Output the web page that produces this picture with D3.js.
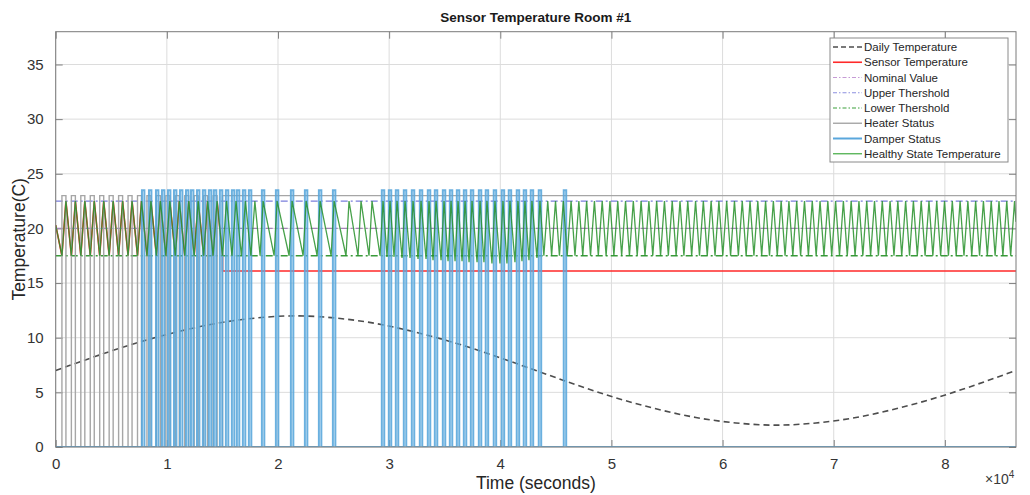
<!DOCTYPE html>
<html><head><meta charset="utf-8">
<script src="https://cdn.jsdelivr.net/npm/d3@7"></script>
<style>body{margin:0;background:#fff;}svg{display:block;font-family:"Liberation Sans",Arial,sans-serif;}</style>
</head><body><svg id="c" width="1030" height="495"></svg>
<script>
// ---------------- DATA ----------------
const title = "Sensor Temperature Room #1";
const xLabel = "Time (seconds)";
const yLabel = "Temperature(C)";
const xTickValues = [0,10000,20000,30000,40000,50000,60000,70000,80000];
const xTickLabels = ["0","1","2","3","4","5","6","7","8"];
const yTickValues = [0,5,10,15,20,25,30,35];
const xDomain = [0,86400];
const yDomain = [0,38];
const legendNames = ["Daily Temperature","Sensor Temperature","Nominal Value","Upper Thershold","Lower Thershold","Heater Status","Damper Status","Healthy State Temperature"];

// daily (outdoor) temperature sampled every hour
const dailyT = [0,3600,7200,10800,14400,18000,21600,25200,28800,32400,36000,39600,43200,46800,50400,54000,57600,61200,64800,68400,72000,75600,79200,82800,86400];
const dailyV = [7,8.3,9.5,10.5,11.3,11.8,12,11.8,11.3,10.5,9.5,8.3,7,5.7,4.5,3.5,2.7,2.2,2,2.2,2.7,3.5,4.5,5.7,7];

const nominalValue = 20;
const upperThreshold = 22.5;
const lowerThreshold = 17.5;

// heater status (0 / 23)
const heaterLevel = 23;
const heaterOnT  = [560,1410,2260,3110,3960,4810,5660,6510,7360,8210,9060,9910,10760,11610,12460,13310,14160,15010];
const heaterOffT = [920,1770,2620,3470,4320,5170,6020,6870,7720,8570,9420,10270,11120,11970,12820,13670,14520];

// damper status (0 / 23.5)
const damperLevel = 23.5;
const damperOnT  = [7760,8390,9020,9560,10100,10640,11180,11720,12170,12710,13240,13780,14230,14770,15310,15850,16300,16840,17380,18550,19810,21160,22420,23680,24940,29340,29970,30600,31320,32040,32760,33480,34110,34830,35460,36090,36720,37350,38070,38690,39410,40130,40760,41480,42110,42740,43460,45710];
const damperOffT = [7980,8610,9240,9780,10320,10860,11400,11940,12390,12930,13460,14000,14450,14990,15530,16070,16520,17060,17600,18770,20030,21380,22640,23900,25160,29560,30190,30820,31540,32260,32980,33700,34330,35050,35680,36310,36940,37570,38290,38910,39630,40350,40980,41700,42330,42960,43680,45930];

// healthy state temperature: start, troughs, peaks, end
const healthyStart = [0,20.3];
const healthyEnd = [86400,20.6];
const healthyTroughT = [560,1410,2260,3110,3960,4810,5660,6510,7360,8210,9060,9910,10760,11610,12460,13310,14160,15010,15860,16710,17560,
 18390,19650,21000,22260,23520,24780,26120,27200,28190,
 29180,29810,30440,31160,31880,32600,33320,33950,34670,35300,35930,36560,37190,37910,38530,39250,39970,40600,41320,41950,42580,43300,
 43920,44620,45320,46020,46720,47420,48120,48820,49520,50220,50920,51620,52320,53020,53720,54420,55120,55820,56520,57220,57920,58620,59320,60020,60720,61420,62120,62820,63520,64220,64920,65620,66320,67020,67720,68420,69120,69820,70520,71220,71920,72620,73320,74020,74720,75420,76120,76820,77520,78220,78920,79620,80320,81020,81720,82420,83120,83820,84520,85220,85920];
const healthyPeakT = [920,1770,2620,3470,4320,5170,6020,6870,7720,8570,9420,10270,11120,11970,12820,13670,14520,15370,16220,17070,17920,
 18660,19920,21270,22530,23790,25050,26390,27470,28460,
 29450,30080,30710,31430,32150,32870,33590,34220,34940,35570,36200,36830,37460,38180,38800,39520,40240,40870,41590,42220,42850,43570,
 44270,44970,45670,46370,47070,47770,48470,49170,49870,50570,51270,51970,52670,53370,54070,54770,55470,56170,56870,57570,58270,58970,59670,60370,61070,61770,62470,63170,63870,64570,65270,65970,66670,67370,68070,68770,69470,70170,70870,71570,72270,72970,73670,74370,75070,75770,76470,77170,77870,78570,79270,79970,80670,81370,82070,82770,83470,84170,84870,85570,86270];
const healthyPeakV = 22.5;
const healthyTroughV = 17.5;
// troughs that undershoot the lower threshold
const healthyDips = [[29810,17.4],[30440,17.4],[31160,17.3],[31880,17.3],[32600,17.2],[33320,17.2],[33950,17.1],[34670,17.1],[35300,17.0],[35930,17.0],[36560,17.0],[37190,16.9],[37910,16.9],[38530,16.9],[39250,16.8],[39970,16.8],[40600,16.8],[41320,16.9],[41950,17.0],[42580,17.1],[43300,17.3]];

// sensor: follows healthy temperature until fault, then stuck
const sensorFaultT = 15010;
const sensorFaultV = 16.1;

// ---------------- CHART ----------------
const svg = d3.select("#c");
const L=55.7, R=1016, T=31.7, B=447;
const x = d3.scaleLinear().domain(xDomain).range([L,R]);
const y = d3.scaleLinear().domain(yDomain).range([B,T]);
const line = d3.line().x(d=>x(d[0])).y(d=>y(d[1]));

svg.append("defs").append("clipPath").attr("id","clip")
  .append("rect").attr("x",L).attr("y",T).attr("width",R-L).attr("height",B-T);

// grid
const grid = svg.append("g");
grid.selectAll(".gx").data(xTickValues).enter().append("line")
  .attr("x1",d=>x(d)).attr("x2",d=>x(d)).attr("y1",T).attr("y2",B)
  .attr("stroke","#dcdcdc").attr("stroke-width",1);
grid.selectAll(".gy").data(yTickValues).enter().append("line")
  .attr("y1",d=>y(d)).attr("y2",d=>y(d)).attr("x1",L).attr("x2",R)
  .attr("stroke","#dcdcdc").attr("stroke-width",1);

// axes with inward ticks
const xAxisB = d3.axisBottom(x).tickValues(xTickValues).tickFormat((d,i)=>xTickLabels[i]).tickSizeInner(-7).tickSizeOuter(0).tickPadding(14);
const yAxisL = d3.axisLeft(y).tickValues(yTickValues).tickSizeInner(-7).tickSizeOuter(0).tickPadding(12);
const gxB = svg.append("g").attr("transform",`translate(0,${B})`).call(xAxisB);
const gyL = svg.append("g").attr("transform",`translate(${L},0)`).call(yAxisL);
const gxT = svg.append("g").attr("transform",`translate(0,${T})`).call(d3.axisTop(x).tickValues(xTickValues).tickFormat("").tickSizeInner(-7).tickSizeOuter(0));
const gyR = svg.append("g").attr("transform",`translate(${R},0)`).call(d3.axisRight(y).tickValues(yTickValues).tickFormat("").tickSizeInner(-7).tickSizeOuter(0));
[gxB,gyL,gxT,gyR].forEach(g=>{
  g.select(".domain").remove();
  g.selectAll("line").attr("stroke","#808080");
  g.selectAll("text").attr("fill","#333").style("font-size","15px").style("font-family","'Liberation Sans',Arial,sans-serif");
});
gxB.selectAll("text").attr("dy","0.5em");

const plot = svg.append("g").attr("clip-path","url(#clip)");

// daily temperature
const daily = dailyT.map((t,i)=>[t,dailyV[i]]);
plot.append("path").datum(daily).attr("d",line.curve(d3.curveNatural))
  .attr("fill","none").attr("stroke","#4d4d4d").attr("stroke-width",1.6).attr("stroke-dasharray","6,4");
line.curve(d3.curveLinear);

// healthy series built from troughs/peaks
const dipMap = new Map(healthyDips);
let hp = [healthyStart];
healthyTroughT.forEach(t=>hp.push([t, dipMap.has(t)?dipMap.get(t):healthyTroughV]));
healthyPeakT.forEach(t=>hp.push([t, healthyPeakV]));
hp.push(healthyEnd);
hp.sort((a,b)=>a[0]-b[0]);

// sensor
let sp = hp.filter(d=>d[0]<=sensorFaultT);
sp.push([sensorFaultT,sensorFaultV],[xDomain[1],sensorFaultV]);
plot.append("path").datum(sp).attr("d",line)
  .attr("fill","none").attr("stroke","#ff2a2a").attr("stroke-width",1.6);

// reference lines
function hline(v,color,dash,w){
  plot.append("path").datum([[xDomain[0],v],[xDomain[1],v]]).attr("d",line)
    .attr("fill","none").attr("stroke",color).attr("stroke-width",w).attr("stroke-dasharray",dash);
}
hline(nominalValue,"#a784b8","7,3,2,3",1.3);
hline(upperThreshold,"#7b7fdc","7,3,2,3",1.3);
hline(lowerThreshold,"#3a9a3a","7,3,2,3",1.3);

// step helper
function steps(onT,offT,level){
  const pts=[[xDomain[0],0]];
  onT.forEach((t,i)=>{
    pts.push([t,0],[t,level]);
    if(i<offT.length){pts.push([offT[i],level],[offT[i],0]);}
    else pts.push([xDomain[1],level]);
  });
  if(onT.length===offT.length) pts.push([xDomain[1],0]);
  return pts;
}
plot.append("path").datum(steps(heaterOnT,heaterOffT,heaterLevel)).attr("d",line)
  .attr("fill","none").attr("stroke","#a6a6a6").attr("stroke-width",1.4);
plot.append("path").datum(steps(damperOnT,damperOffT,damperLevel)).attr("d",line)
  .attr("fill","none").attr("stroke","#5aa7dc").attr("stroke-width",2).attr("stroke-opacity",0.9);

// healthy
plot.append("path").datum(hp).attr("d",line)
  .attr("fill","none").attr("stroke","#27912a").attr("stroke-width",1.3).attr("stroke-opacity",0.85);

// box
svg.append("rect").attr("x",L).attr("y",T).attr("width",R-L).attr("height",B-T)
  .attr("fill","none").attr("stroke","#7a7a7a").attr("stroke-width",1);

// title and labels
svg.append("text").attr("x",(L+R)/2).attr("y",22).attr("text-anchor","middle")
  .style("font-size","13.5px").style("font-weight","bold").attr("fill","#1a1a1a").text(title);
svg.append("text").attr("x",(L+R)/2).attr("y",489).attr("text-anchor","middle")
  .style("font-size","17.5px").attr("fill","#262626").text(xLabel);
svg.append("text").attr("transform",`translate(25,${(T+B)/2}) rotate(-90)`).attr("text-anchor","middle")
  .style("font-size","17.5px").attr("fill","#262626").text(yLabel);
const ex = svg.append("text").attr("x",985).attr("y",484).style("font-size","14px").attr("fill","#3a3a3a");
ex.append("tspan").text("\u00d710");
ex.append("tspan").attr("dy","-6").style("font-size","10px").text("4");

// legend
const lg = svg.append("g");
const lx=830, ly=38, lw=178, lh=124;
lg.append("rect").attr("x",lx).attr("y",ly).attr("width",lw).attr("height",lh)
  .attr("fill","#fff").attr("stroke","#8a8a8a").attr("stroke-width",1);
const legStyles = [
  {c:"#4d4d4d",d:"5,3",w:1.5},
  {c:"#ff2a2a",d:null,w:1.6},
  {c:"#c69ad6",d:"4,2,1.5,2",w:1.2},
  {c:"#8d90e0",d:"4,2,1.5,2",w:1.2},
  {c:"#3aa03a",d:"4,2,1.5,2",w:1.2},
  {c:"#a6a6a6",d:null,w:1.4},
  {c:"#5aa7dc",d:null,w:2},
  {c:"#4fb04f",d:null,w:1.3}
];
const legY = i => 47 + i*15.25;
lg.selectAll(".li").data(legendNames).enter().append("line")
  .attr("x1",lx+3).attr("x2",lx+32).attr("y1",(d,i)=>legY(i)).attr("y2",(d,i)=>legY(i))
  .attr("stroke",(d,i)=>legStyles[i].c).attr("stroke-width",(d,i)=>legStyles[i].w)
  .attr("stroke-dasharray",(d,i)=>legStyles[i].d);
lg.selectAll(".lt").data(legendNames).enter().append("text")
  .attr("x",lx+34).attr("y",(d,i)=>legY(i)).attr("dy","0.35em")
  .style("font-size","11.5px").attr("fill","#262626").text(d=>d);
</script></body></html>
